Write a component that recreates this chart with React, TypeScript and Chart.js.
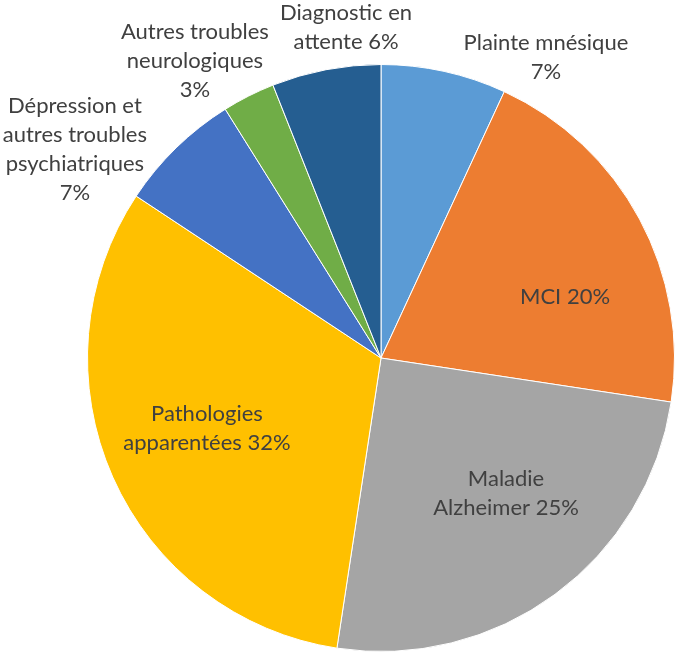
import React, { useEffect, useRef } from "react";
import { Chart, registerables } from "chart.js";

Chart.register(...registerables);

const categories = [
  "Plainte mnésique",
  "MCI",
  "Maladie Alzheimer",
  "Pathologies apparentées",
  "Dépression et autres troubles psychiatriques",
  "Autres troubles neurologiques",
  "Diagnostic en attente",
];
const values = [6.9, 20.5, 25, 31.9, 6.8, 2.9, 6.0];
const labelLines = [
  ["Plainte mnésique", "7%"],
  ["MCI 20%"],
  ["Maladie", "Alzheimer 25%"],
  ["Pathologies", "apparentées 32%"],
  ["Dépression et", "autres troubles", "psychiatriques", "7%"],
  ["Autres troubles", "neurologiques", "3%"],
  ["Diagnostic en", "attente 6%"],
];
const colors = ["#5B9BD5", "#ED7D31", "#A5A5A5", "#FFC000", "#4472C4", "#70AD47", "#255E91"];
// label block centers, relative to pie center, in units of radius
const labelPos = [
  [0.562, -1.024],
  [0.627, -0.208],
  [0.426, 0.46],
  [-0.593, 0.239],
  [-1.043, -0.71],
  [-0.634, -1.012],
  [-0.119, -1.126],
];

const FONT_FAMILY = "Lato, sans-serif";
const FONT_SIZE = 22;
const LINE_H = 29;

const labelPlugin = {
  id: "pieLabels",
  afterDraw(chart: any) {
    const ctx = chart.ctx;
    const meta = chart.getDatasetMeta(0);
    const arc0 = meta.data[0];
    const cx = arc0.x;
    const cy = arc0.y;
    const R = arc0.outerRadius;
    ctx.save();
    ctx.font = `${FONT_SIZE}px ${FONT_FAMILY}`;
    ctx.fillStyle = "#404040";
    ctx.textAlign = "center";
    ctx.textBaseline = "middle";
    labelLines.forEach((lines, i) => {
      const bx = cx + labelPos[i][0] * R;
      const by = cy + labelPos[i][1] * R;
      const n = lines.length;
      lines.forEach((t, j) => {
        ctx.fillText(t, bx, by + (j - (n - 1) / 2) * LINE_H);
      });
    });
    ctx.restore();
  },
};

export default function App() {
  const ref = useRef<HTMLCanvasElement>(null);
  useEffect(() => {
    if (!ref.current) return;
    const chart = new Chart(ref.current, {
      type: "pie",
      data: {
        labels: categories,
        datasets: [
          {
            data: values,
            backgroundColor: colors,
            borderColor: "#ffffff",
            borderWidth: 1,
          },
        ],
      },
      options: {
        responsive: false,
        animation: false,
        layout: { padding: { left: 87, top: 64, right: 0, bottom: 1 } },
        plugins: {
          legend: { display: false },
          tooltip: { enabled: false },
        },
      },
      plugins: [labelPlugin],
    });
    return () => chart.destroy();
  }, []);
  return (
    <div style={{ position: "fixed", left: 0, top: 0, width: 675, height: 653, background: "#fff" }}>
      <canvas ref={ref} width={675} height={653} style={{ width: 675, height: 653 }} />
    </div>
  );
}
